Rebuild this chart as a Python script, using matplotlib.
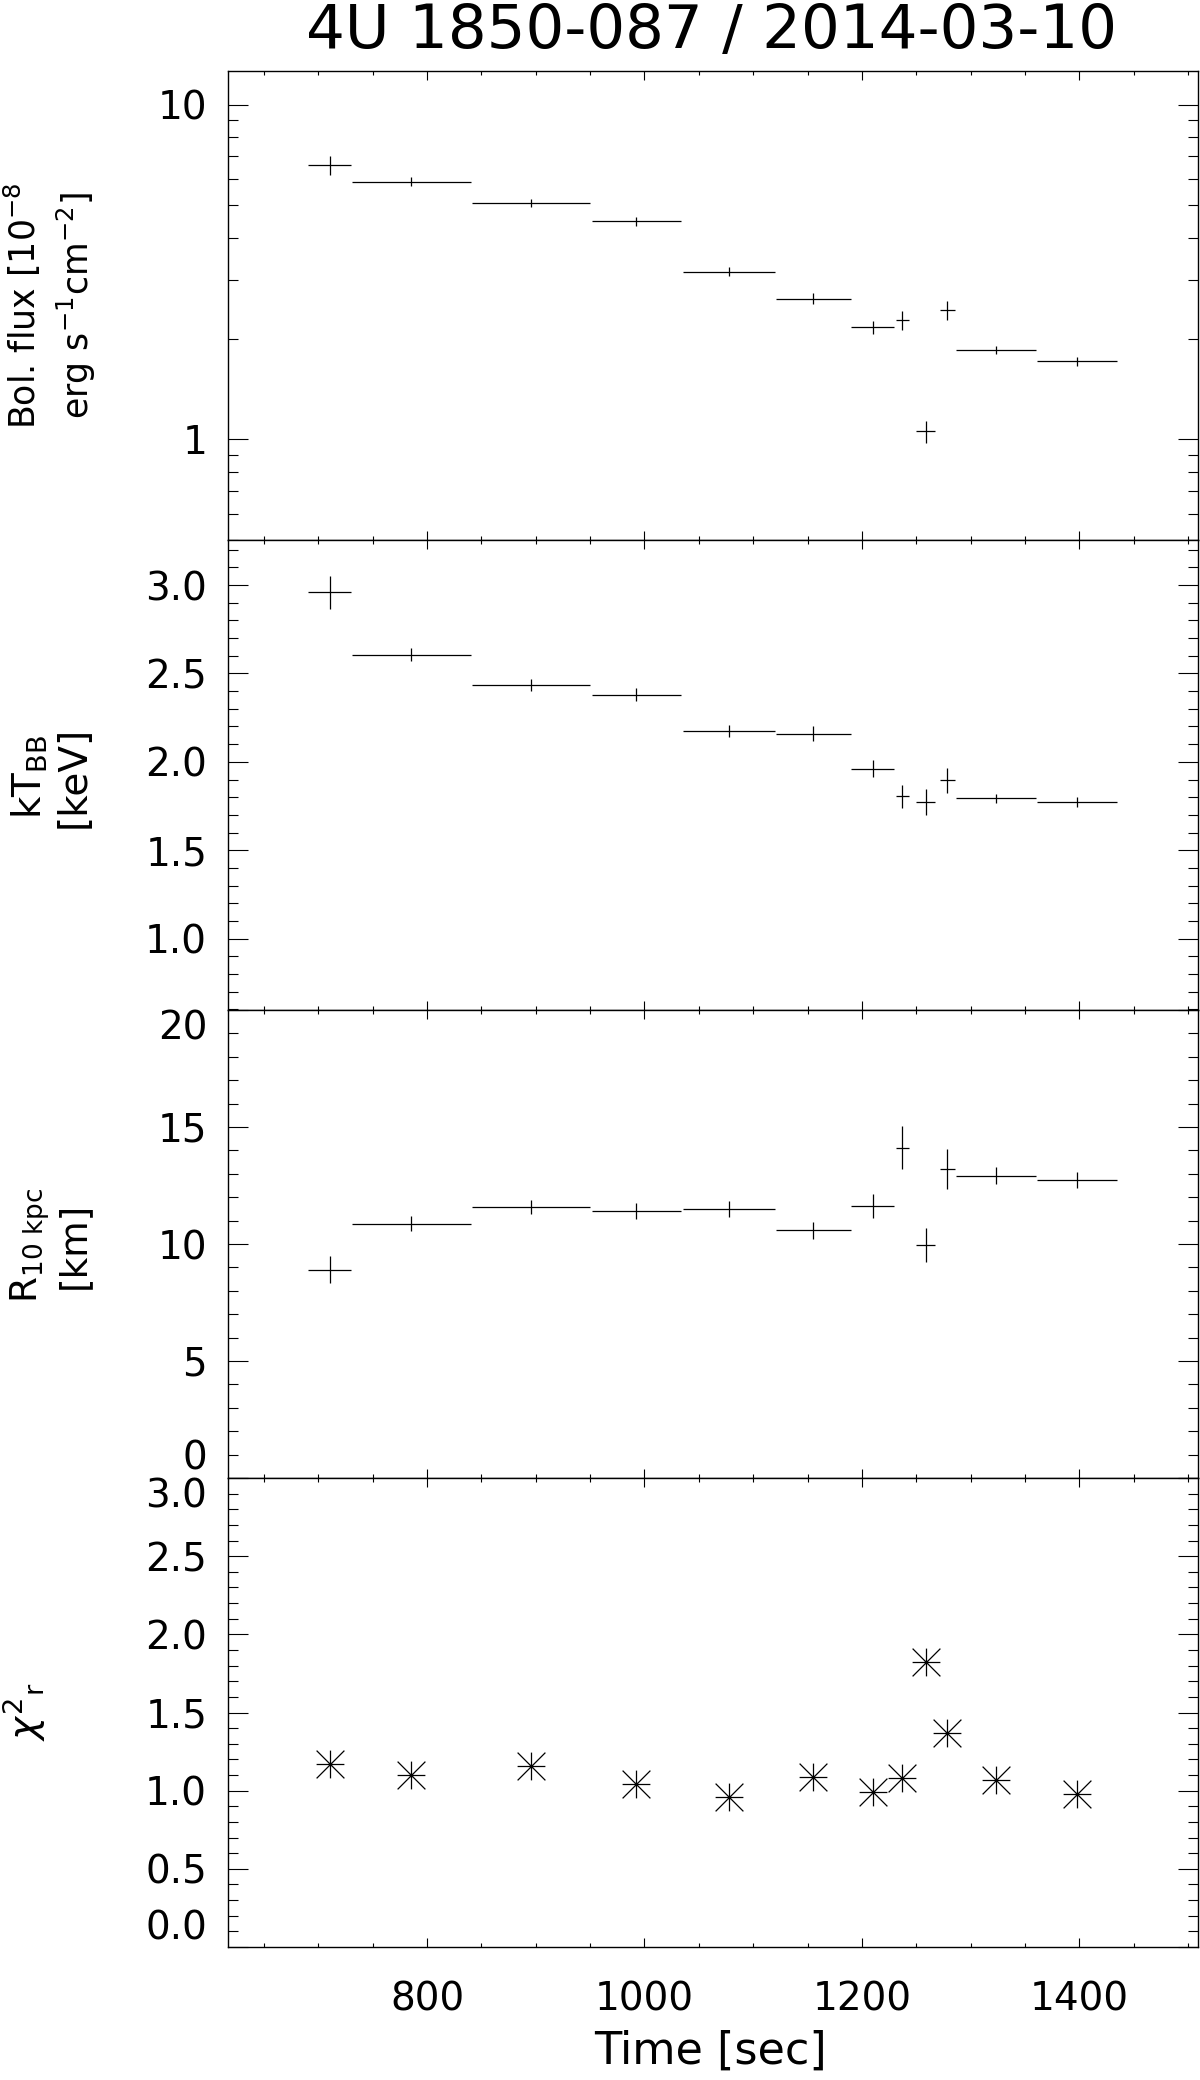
import numpy as np
import matplotlib
matplotlib.use("Agg")
import matplotlib.pyplot as plt
from matplotlib.path import Path
from matplotlib.ticker import MultipleLocator, FixedLocator, LogLocator, NullFormatter, FuncFormatter

# time bins (sec): centre and half width
time_mid = [710.5, 785.5, 895.7, 992.6, 1077.8, 1155.3, 1209.9, 1237.0, 1258.8, 1278.5, 1323.2, 1397.9]
time_half = [19.7, 54.6, 54.3, 41.2, 42.6, 34.2, 19.7, 6.0, 8.8, 6.7, 36.7, 36.7]

# bolometric flux [1e-8 erg/s/cm2]
flux = [6.58, 5.89, 5.07, 4.48, 3.17, 2.63, 2.16, 2.27, 1.056, 2.43, 1.85, 1.71]
flux_err = [0.44, 0.18, 0.14, 0.14, 0.09, 0.10, 0.10, 0.15, 0.08, 0.16, 0.05, 0.05]

# blackbody temperature [keV]
kT = [2.96, 2.607, 2.435, 2.38, 2.173, 2.16, 1.961, 1.805, 1.774, 1.895, 1.793, 1.771]
kT_err = [0.093, 0.039, 0.033, 0.035, 0.033, 0.042, 0.047, 0.066, 0.074, 0.069, 0.025, 0.028]

# radius at 10 kpc [km]
radius = [8.90, 10.87, 11.58, 11.41, 11.50, 10.58, 11.62, 14.12, 9.97, 13.21, 12.91, 12.72]
radius_err = [0.58, 0.33, 0.29, 0.36, 0.33, 0.38, 0.51, 0.91, 0.72, 0.87, 0.36, 0.34]

# reduced chi-square
chi2 = [1.17, 1.10, 1.16, 1.04, 0.96, 1.09, 0.99, 1.08, 1.82, 1.37, 1.07, 0.98]

W, H = 1200, 2080
left, right = 228, 1198
edges = [71, 540, 1010, 1478, 1947]

fig = plt.figure(figsize=(W / 100, H / 100), dpi=100)


def make_panel(i):
    top, bot = edges[i], edges[i + 1]
    ax = fig.add_axes([left / W, 1 - bot / H, (right - left) / W, (bot - top) / H])
    ax.set_xlim(617, 1509)
    ax.xaxis.set_major_locator(MultipleLocator(200))
    ax.xaxis.set_minor_locator(MultipleLocator(50))
    ax.tick_params(which="both", direction="in", top=True, right=True,
                   labelsize=28, width=0.8, color="k")
    ax.tick_params(axis="x", which="major", length=6.5)
    ax.tick_params(axis="x", which="minor", length=3.2)
    ax.tick_params(axis="y", which="major", length=14.5, pad=15)
    ax.tick_params(axis="y", which="minor", length=7.2)
    for s in ax.spines.values():
        s.set_linewidth(1.0)
    if i < 3:
        ax.tick_params(labelbottom=False)
    return ax


def edge_labels(ax):
    ticks = ax.yaxis.get_major_ticks()
    ticks[0].label1.set_verticalalignment("bottom")
    ticks[-1].label1.set_verticalalignment("top")


eb = dict(fmt="none", ecolor="k", elinewidth=0.9, capsize=0)

# panel 1: flux
ax1 = make_panel(0)
ax1.errorbar(time_mid, flux, xerr=time_half, yerr=flux_err, **eb)
ax1.set_yscale("log")
ax1.set_ylim(0.5, 12.6)
ax1.yaxis.set_major_locator(FixedLocator([1, 10]))
ax1.yaxis.set_major_formatter(FuncFormatter(lambda v, p: "%d" % round(v)))
ax1.yaxis.set_minor_locator(LogLocator(base=10, subs=np.arange(2, 10)))
ax1.yaxis.set_minor_formatter(NullFormatter())

# panel 2: kT
ax2 = make_panel(1)
ax2.errorbar(time_mid, kT, xerr=time_half, yerr=kT_err, **eb)
ax2.set_ylim(0.596, 3.255)
ax2.set_yticks([1.0, 1.5, 2.0, 2.5, 3.0], labels=["1.0", "1.5", "2.0", "2.5", "3.0"])
ax2.yaxis.set_minor_locator(MultipleLocator(0.1))

# panel 3: radius
ax3 = make_panel(2)
ax3.errorbar(time_mid, radius, xerr=time_half, yerr=radius_err, **eb)
ax3.set_ylim(0, 20)
ax3.set_yticks([0, 5, 10, 15, 20], labels=["0", "5", "10", "15", "20"])
ax3.yaxis.set_minor_locator(MultipleLocator(1))
edge_labels(ax3)

# panel 4: chi2 with IDL-like asterisks
star = Path([(-1, 0), (1, 0), (0, -1), (0, 1), (-1, -1), (1, 1), (-1, 1), (1, -1)],
            [Path.MOVETO, Path.LINETO] * 4)
ax4 = make_panel(3)
ax4.plot(time_mid, chi2, linestyle="none", marker=star, markersize=20,
         markeredgewidth=0.9, color="k")
ax4.set_ylim(0, 3.0)
ax4.set_yticks([0, 0.5, 1.0, 1.5, 2.0, 2.5, 3.0],
               labels=["0.0", "0.5", "1.0", "1.5", "2.0", "2.5", "3.0"])
ax4.yaxis.set_minor_locator(MultipleLocator(0.1))
ax4.tick_params(axis="x", which="major", pad=24)
edge_labels(ax4)

# titles and axis labels
fig.text(711 / W, 1 - 48 / H, "4U 1850-087 / 2014-03-10", ha="center", va="baseline", fontsize=44)
fig.text(711 / W, 1 - 2064 / H, "Time [sec]", ha="center", va="baseline", fontsize=32)

lab = dict(rotation=90, ha="center", va="center", multialignment="center")
fig.text(50 / W, 1 - 306 / H, "Bol. flux [10$^{-8}$\nerg s$^{-1}$cm$^{-2}$]",
         fontsize=25, linespacing=1.35, **lab)
fig.text(51 / W, 1 - 777 / H, "kT$_{\\rm BB}$\n[keV]", fontsize=28, linespacing=1.15, **lab)
fig.text(50 / W, 1 - 1245 / H, "R$_{\\rm 10\\ kpc}$\n[km]", fontsize=27, linespacing=1.15, **lab)
fig.text(24 / W, 1 - 1712 / H, "$\\chi^{2}{}_{\\rm r}$", fontsize=28, **lab)

fig.savefig("out.png", dpi=100)
plt.close()
